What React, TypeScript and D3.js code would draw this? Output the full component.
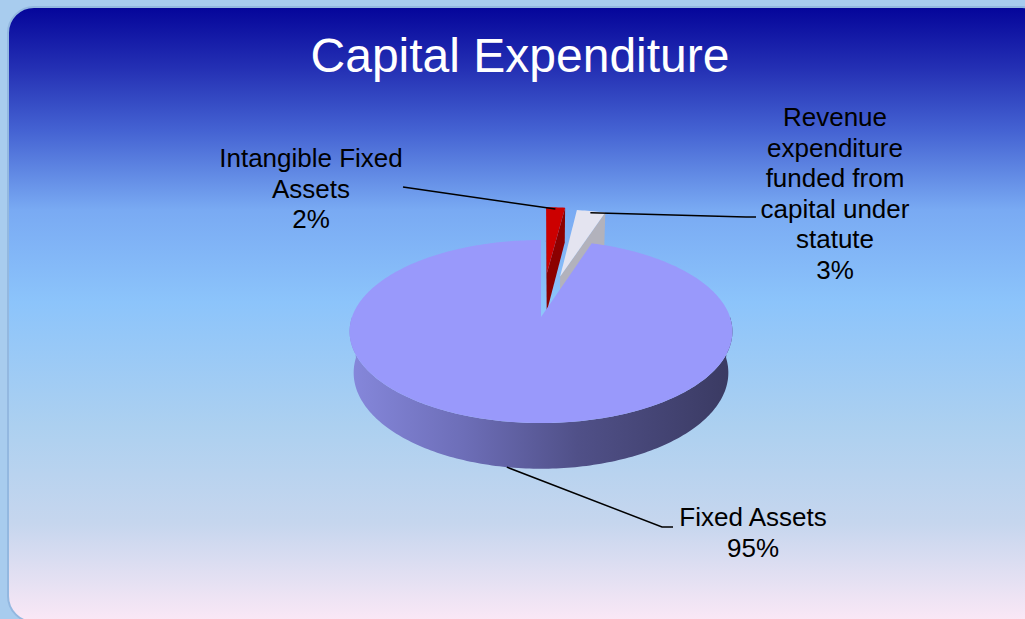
import React from "react";
import * as d3 from "d3";

const width = 1025;
const height = 619;

// pie data, clockwise from 12 o'clock
const categories = [
  "Intangible Fixed Assets",
  "Revenue expenditure funded from capital under statute",
  "Fixed Assets",
];
const values = [2, 3, 95];
const labelLines = [
  ["Intangible Fixed", "Assets"],
  ["Revenue", "expenditure", "funded from", "capital under", "statute"],
  ["Fixed Assets"],
];

const topColors = ["#cc0000", "#e4e4f0", "#9999fb"];
const sideColors = ["#8c0000", "#b2b2bc", "#6e70c2"];
const explode = [0.53, 0.5, 0];

// label layout: center x, first baseline, leader end points (label side)
const labelPos = [
  { x: 311, y: 167, leader: [[403, 187]] },
  { x: 835, y: 126, leader: [[756, 217], [746, 217]] },
  { x: 753, y: 526, leader: [[673, 527], [662, 527]] },
];

// 3d projection
const S = 189;
const D = 5.55;
const SA = 0.472;
const CA = Math.sqrt(1 - SA * SA);
const DEPTH = 0.25;
const CX = 541;
const CY = 317;

function proj(X: number, Z: number, Y: number): [number, number] {
  const yv = Y * CA - Z * SA;
  const d = D - Z * CA - Y * SA;
  const k = D / d;
  return [CX + S * X * k, CY - S * yv * k];
}

const dir = (a: number) => [Math.sin(a), -Math.cos(a)];

function arcPts(ox: number, oz: number, Y: number, a0: number, a1: number, r = 1) {
  const n = Math.max(2, Math.ceil(Math.abs(a1 - a0) / (Math.PI / 180)));
  const pts: [number, number][] = [];
  for (let i = 0; i <= n; i++) {
    const a = a0 + ((a1 - a0) * i) / n;
    const [dx, dz] = dir(a);
    pts.push(proj(ox + r * dx, oz + r * dz, Y));
  }
  return pts;
}

const poly = (pts: [number, number][]) => "M" + pts.map((p) => p[0].toFixed(2) + "," + p[1].toFixed(2)).join("L") + "Z";

const camZ = D * CA;

export default function App() {
  const total = d3.sum(values);
  const pct = d3.format(".0%");
  const arcs = d3.pie<number>().sort(null)(values);

  const slices = arcs.map((a, i) => {
    const a0 = a.startAngle;
    const a1 = a.endAngle;
    const m = (a0 + a1) / 2;
    const [mx, mz] = dir(m);
    const ox = explode[i] * mx;
    const oz = explode[i] * mz;

    const top = [proj(ox, oz, 0), ...arcPts(ox, oz, 0, a0, a1)];

    const faces: { d: string; fill: string }[] = [];
    // radial faces, back-face culled
    [
      { ang: a0, n: [-Math.cos(a0), -Math.sin(a0)] },
      { ang: a1, n: [Math.cos(a1), Math.sin(a1)] },
    ].forEach(({ ang, n }) => {
      const [dx, dz] = dir(ang);
      const px = ox + dx * 0.5;
      const pz = oz + dz * 0.5;
      const vis = n[0] * (0 - px) + n[1] * (camZ - pz);
      if (vis > 0) {
        faces.push({
          d: poly([
            proj(ox, oz, 0),
            proj(ox + dx, oz + dz, 0),
            proj(ox + dx, oz + dz, -DEPTH),
            proj(ox, oz, -DEPTH),
          ]),
          fill: sideColors[i],
        });
      }
    });

    // outer wall, front half only
    const w0 = Math.max(a0, Math.PI / 2);
    const w1 = Math.min(a1, (3 * Math.PI) / 2);
    let wall: string | null = null;
    if (w1 > w0) {
      wall = poly([...arcPts(ox, oz, 0, w0, w1), ...arcPts(ox, oz, -DEPTH, w0, w1).reverse()]);
    }

    // leader anchor
    const anchor =
      i === 2
        ? proj(ox + mx, oz + mz, -DEPTH)
        : proj(ox + 0.97 * mx, oz + 0.97 * mz, 0);

    return { i, m, top: poly(top), faces, wall, anchor, depth: -Math.cos(m) };
  });

  const order = [...slices].sort((a, b) => a.depth - b.depth);

  const font = "'Liberation Sans', Arial, Helvetica, sans-serif";

  return (
    <svg
      width={width}
      height={height}
      style={{ position: "absolute", left: 0, top: 0 }}
    >
      <defs>
        <linearGradient id="bg" gradientUnits="userSpaceOnUse" x1={0} y1={7} x2={0} y2={622}>
          <stop offset="0" stopColor="#05059a" />
          <stop offset="0.1" stopColor="#2430b4" />
          <stop offset="0.2" stopColor="#4462d2" />
          <stop offset="0.33" stopColor="#79aaf3" />
          <stop offset="0.48" stopColor="#8cc4fb" />
          <stop offset="0.68" stopColor="#acd0f0" />
          <stop offset="0.84" stopColor="#c6d6ee" />
          <stop offset="1" stopColor="#fbe8f6" />
        </linearGradient>
        <linearGradient id="wall" gradientUnits="userSpaceOnUse" x1={348} y1={0} x2={731} y2={0}>
          <stop offset="0" stopColor="#8688dc" />
          <stop offset="0.3" stopColor="#6d6eb8" />
          <stop offset="0.6" stopColor="#505088" />
          <stop offset="1" stopColor="#3a3a62" />
        </linearGradient>
      </defs>

      <rect width={width} height={height} fill="#a8ccee" />
      <rect x={8} y={7} width={1040} height={615} rx={26} fill="url(#bg)" stroke="#93b8e0" strokeWidth={2} />

      <text
        x={520}
        y={72}
        textAnchor="middle"
        fill="#ffffff"
        fontFamily={font}
        fontSize={48}
      >
        Capital Expenditure
      </text>

      {order.map((s) => (
        <g key={categories[s.i]}>
          {s.wall && <path d={s.wall} fill={s.i === 2 ? "url(#wall)" : sideColors[s.i]} />}
          {s.faces.map((f, j) => (
            <path key={j} d={f.d} fill={f.fill} />
          ))}
          <path d={s.top} fill={topColors[s.i]} />
        </g>
      ))}

      {slices.map((s) => {
        const lp = labelPos[s.i];
        const pts = [...lp.leader, s.anchor] as [number, number][];
        const lines = [...labelLines[s.i], pct(values[s.i] / total)];
        return (
          <g key={"lbl" + s.i}>
            <path d={d3.line()(pts) ?? ""} fill="none" stroke="#000" strokeWidth={1.5} />
            <text textAnchor="middle" fontFamily={font} fontSize={26} fill="#000">
              {lines.map((t, j) => (
                <tspan key={j} x={lp.x} y={lp.y + j * 30.5}>
                  {t}
                </tspan>
              ))}
            </text>
          </g>
        );
      })}
    </svg>
  );
}
